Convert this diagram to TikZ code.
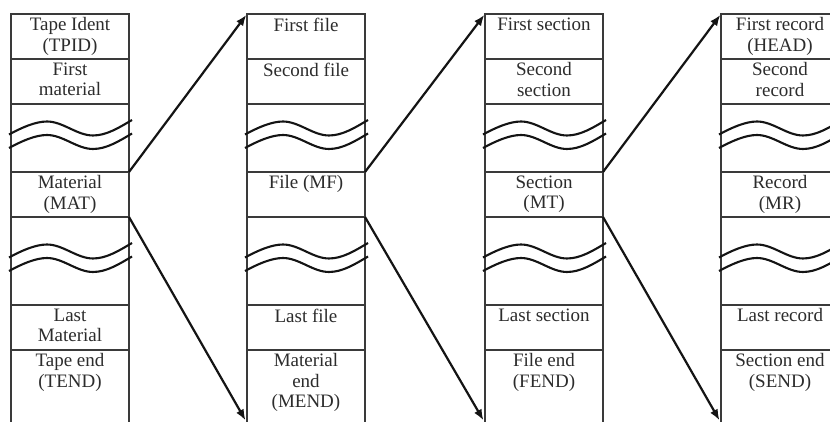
\documentclass[tikz,border=0pt]{standalone}
\usepackage{fontspec}
\setmainfont{Liberation Serif}
\usetikzlibrary{arrows.meta}
\definecolor{boxline}{HTML}{3A3A3A}
\definecolor{ink}{HTML}{141414}
\definecolor{txt}{HTML}{2C2C2C}
\tikzset{
  cell/.style={draw=boxline, line width=2pt, minimum width=118pt, anchor=north west, inner sep=0pt, outer sep=0pt},
  lbl/.style={anchor=north, yshift=-3.5pt, align=center, text=txt, font=\fontsize{19}{20.5}\selectfont, inner sep=0pt},
  wave/.style={draw=ink, line width=2.1pt},
  link/.style={draw=ink, line width=2.2pt, -{Latex[length=11pt,width=8.5pt]}},
}
\newcommand{\wavepair}[2]{%
  \foreach \dy in {0,13.5} {
    \draw[wave] (#1-2,#2-3.5+\dy) .. controls (#1+10,#2-10+\dy) and (#1+24,#2-16.5+\dy) .. (#1+36,#2-16.5+\dy)
      .. controls (#1+52,#2-16.5+\dy) and (#1+66,#2-2.5+\dy) .. (#1+82,#2-2.5+\dy)
      .. controls (#1+96,#2-2.5+\dy) and (#1+109,#2-11+\dy) .. (#1+121,#2-18+\dy);
  }}
\newcommand{\tapecol}[7]{%
  \node[cell, minimum height=45pt] (#1r1) at (#2,14) {};
  \node[cell, minimum height=45pt] (#1r2) at (#2,59) {};
  \node[cell, minimum height=68pt] (#1g1) at (#2,104) {};
  \node[cell, minimum height=45pt] (#1r4) at (#2,172) {};
  \node[cell, minimum height=88pt] (#1g2) at (#2,217) {};
  \node[cell, minimum height=45pt] (#1r6) at (#2,305) {};
  \node[cell, minimum height=73pt] (#1r7) at (#2,350) {};
  \node[lbl] (#1t1) at (#1r1.north) {#3};
  \node[lbl] (#1t2) at (#1r2.north) {#4};
  \node[lbl] (#1t4) at (#1r4.north) {#5};
  \node[lbl] (#1t6) at (#1r6.north) {#6};
  \node[lbl] (#1t7) at (#1r7.north) {#7};
  \wavepair{#2}{138}
  \wavepair{#2}{261}
}
\begin{document}
\begin{tikzpicture}[x=1pt, y=-1pt]
\useasboundingbox (0,0) rectangle (830,422);
\clip (0,0) rectangle (830,422);
\fill[white] (0,0) rectangle (830,422);
\tapecol{a}{11}{Tape Ident\\(TPID)}{First\\material}{Material\\(MAT)}{Last\\Material}{Tape end\\(TEND)}
\tapecol{b}{247}{First file}{Second file}{File (MF)}{Last file}{Material\\end\\(MEND)}
\tapecol{c}{485}{First section}{Second\\section}{Section\\(MT)}{Last section}{File end\\(FEND)}
\tapecol{d}{721}{First record\\(HEAD)}{Second\\record}{Record\\(MR)}{Last record}{Section end\\(SEND)}
\draw[link, shorten >=1pt] (ar4.north east) -- (br1.north west);
\draw[link, shorten >=3pt] (ar4.south east) -- (br7.south west);
\draw[link, shorten >=1pt] (br4.north east) -- (cr1.north west);
\draw[link, shorten >=3pt] (br4.south east) -- (cr7.south west);
\draw[link, shorten >=1pt] (cr4.north east) -- (dr1.north west);
\draw[link, shorten >=3pt] (cr4.south east) -- (dr7.south west);
\end{tikzpicture}
\end{document}
